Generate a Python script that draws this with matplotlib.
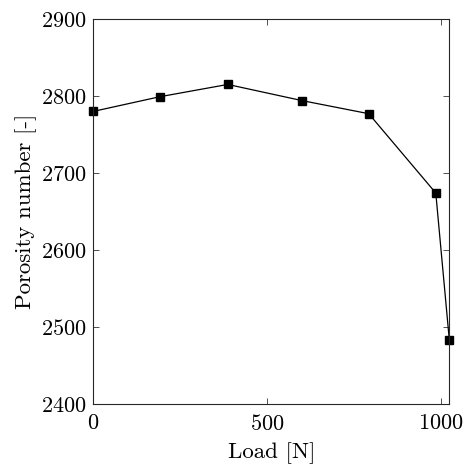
import matplotlib
matplotlib.use("Agg")
import matplotlib.pyplot as plt

# data
load = [0, 191, 387, 601, 793, 986, 1025]
porosity = [2780, 2799, 2815, 2794, 2777, 2674, 2483]

x_ticks = [0, 500, 1000]
y_ticks = [2400, 2500, 2600, 2700, 2800, 2900]

plt.rcParams['font.family'] = 'serif'
plt.rcParams['font.serif'] = ['cmr10']
plt.rcParams['mathtext.fontset'] = 'cm'
plt.rcParams['axes.formatter.use_mathtext'] = True

fig = plt.figure(figsize=(4.65, 4.69), dpi=100)
ax = fig.add_axes([0.2007, 0.1386, 0.7656, 0.8209])

ax.plot(load, porosity, color='black', linewidth=0.9, clip_on=False,
        marker='s', markersize=6, markerfacecolor='black', markeredgecolor='black')

ax.set_xlim(0, 1025)
ax.set_ylim(2400, 2900)
ax.set_xticks(x_ticks)
ax.set_yticks(y_ticks)

ax.tick_params(direction='in', top=True, right=True, length=4, width=0.6,
               labelsize=16, color='#333333')
ax.tick_params(axis='x', pad=7)
ax.tick_params(axis='y', pad=5)
for s in ax.spines.values():
    s.set_linewidth(0.8)
    s.set_color('#262626')

ax.set_xlabel('Load [N]', fontsize=16.5, labelpad=6)
ax.set_ylabel('Porosity number [-]', fontsize=16.5, labelpad=3)

fig.savefig('out.png', dpi=100)
